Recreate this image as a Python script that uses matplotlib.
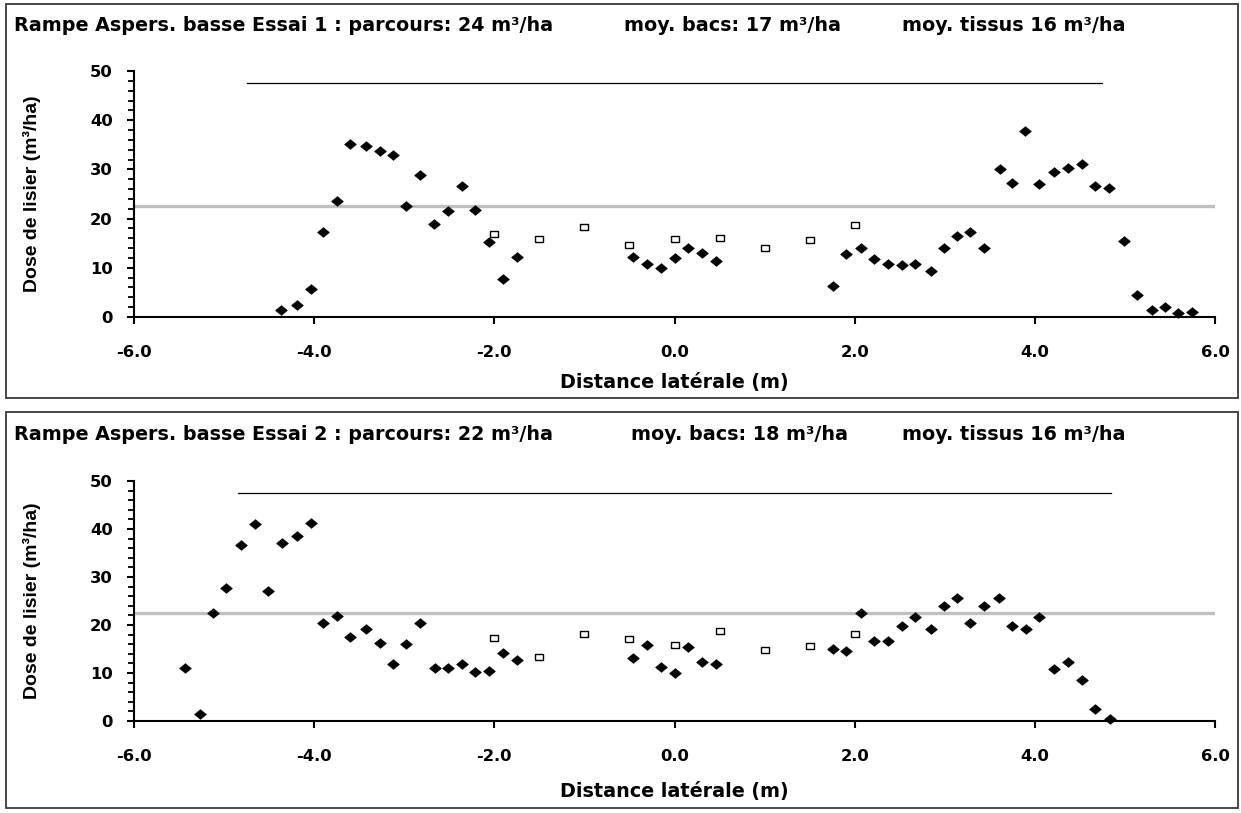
import matplotlib
matplotlib.use("Agg")
import matplotlib.pyplot as plt
from matplotlib.patches import Rectangle
from matplotlib.ticker import MultipleLocator, FormatStrFormatter

plt.rcParams['font.family'] = ['DejaVu Sans']
plt.rcParams['font.weight'] = 'bold'

# ---------------- Essai 1 ----------------
e1_titles = ["Rampe Aspers. basse Essai 1 : parcours: 24 m³/ha",
             "moy. bacs: 17 m³/ha", "moy. tissus 16 m³/ha"]
e1_tissus_x = [-4.37, -4.19, -4.04, -3.90, -3.75, -3.60, -3.43, -3.27, -3.13, -2.98,
               -2.82, -2.67, -2.51, -2.36, -2.21, -2.06, -1.90, -1.75,
               -0.46, -0.30, -0.15, 0.01, 0.15, 0.30, 0.46,
               1.76, 1.90, 2.07, 2.22, 2.37, 2.52, 2.67, 2.85, 2.99, 3.14, 3.28, 3.44,
               3.61, 3.75, 3.89, 4.05, 4.21, 4.37, 4.52, 4.67, 4.82, 4.99, 5.13, 5.30,
               5.44, 5.59, 5.75]
e1_tissus_y = [1.5, 2.5, 5.7, 17.2, 23.5, 35.2, 34.7, 33.7, 32.9, 22.6,
               28.8, 19.0, 21.5, 26.7, 21.8, 15.2, 7.8, 12.1,
               12.1, 10.8, 10.0, 11.9, 14.1, 13.1, 11.4,
               6.2, 12.8, 14.0, 11.8, 10.8, 10.5, 10.8, 9.3, 14.0, 16.4, 17.2, 14.0,
               30.1, 27.3, 37.8, 27.1, 29.5, 30.3, 31.1, 26.6, 26.2, 15.4, 4.4, 1.5,
               2.0, 0.9, 1.0]
e1_bacs_x = [-2.0, -1.5, -1.0, -0.5, 0.0, 0.5, 1.0, 1.5, 2.0]
e1_bacs_y = [16.9, 15.8, 18.3, 14.6, 15.8, 16.1, 14.1, 15.6, 18.6]
e1_parcours_y = 22.5
e1_larg_x = [-4.75, 0.0, 4.75]
e1_larg_y = [47.5, 47.5, 47.5]

# ---------------- Essai 2 ----------------
e2_titles = ["Rampe Aspers. basse Essai 2 : parcours: 22 m³/ha",
             "moy. bacs: 18 m³/ha", "moy. tissus 16 m³/ha"]
e2_tissus_x = [-5.43, -5.27, -5.12, -4.98, -4.81, -4.66, -4.51, -4.36, -4.19, -4.04,
               -3.90, -3.75, -3.60, -3.43, -3.27, -3.13, -2.98, -2.82, -2.66, -2.51,
               -2.36, -2.21, -2.06, -1.90, -1.75,
               -0.46, -0.30, -0.15, 0.01, 0.15, 0.30, 0.46,
               1.76, 1.90, 2.07, 2.22, 2.37, 2.52, 2.67, 2.85, 2.99, 3.14, 3.28, 3.44,
               3.60, 3.75, 3.90, 4.05, 4.21, 4.37, 4.52, 4.67, 4.83]
e2_tissus_y = [11.0, 1.4, 22.6, 27.8, 36.6, 41.0, 27.0, 37.1, 38.5, 41.3,
               20.5, 21.8, 17.5, 19.2, 16.3, 11.9, 16.0, 20.5, 11.0, 11.0,
               11.9, 10.2, 10.5, 14.1, 12.8,
               13.2, 15.8, 11.3, 10.1, 15.4, 12.3, 11.8,
               15.0, 14.5, 22.5, 16.6, 16.6, 19.7, 21.7, 19.1, 24.0, 25.7, 20.5, 24.0,
               25.6, 19.7, 19.1, 21.7, 10.9, 12.3, 8.5, 2.6, 0.5]
e2_bacs_x = [-2.0, -1.5, -1.0, -0.5, 0.0, 0.5, 1.0, 1.5, 2.0]
e2_bacs_y = [17.3, 13.4, 18.1, 17.0, 15.9, 18.7, 14.7, 15.6, 18.1]
e2_parcours_y = 22.5
e2_larg_x = [-4.85, 0.0, 4.85]
e2_larg_y = [47.6, 47.6, 47.6]

x_label = "Distance latérale (m)"
y_label = "Dose de lisier (m³/ha)"

W, H = 1241, 813
fig = plt.figure(figsize=(W / 100, H / 100), dpi=100)


def fx(px):
    return px / W


def fy(py):
    return 1 - py / H


panels = [
    dict(titles=e1_titles, tx=e1_tissus_x, ty=e1_tissus_y, bx=e1_bacs_x, by=e1_bacs_y,
         py=e1_parcours_y, lx=e1_larg_x, ly=e1_larg_y,
         box=(6, 4, 1238, 398), ax_top=71, ax_bot=317, title_base=31,
         title_x=[14, 624, 902], xlab_base=388),
    dict(titles=e2_titles, tx=e2_tissus_x, ty=e2_tissus_y, bx=e2_bacs_x, by=e2_bacs_y,
         py=e2_parcours_y, lx=e2_larg_x, ly=e2_larg_y,
         box=(6, 412, 1238, 808), ax_top=481, ax_bot=721, title_base=440,
         title_x=[14, 631, 902], xlab_base=797),
]

# wide, slightly flattened markers (the reference is stretched horizontally)
diamond = [(-1.0, 0.0), (0.0, 0.83), (1.0, 0.0), (0.0, -0.83), (-1.0, 0.0)]
square = [(-1.0, -0.85), (1.0, -0.85), (1.0, 0.85), (-1.0, 0.85), (-1.0, -0.85)]

FS_T = 13.8
FS_K = 11.8
for p in panels:
    x0, y0, x1, y1 = p['box']
    fig.add_artist(Rectangle((fx(x0), fy(y1)), fx(x1) - fx(x0), fy(y0) - fy(y1),
                             transform=fig.transFigure, fill=False,
                             ec='#3a3a3a', lw=1.3))
    ax = fig.add_axes([fx(134), fy(p['ax_bot']), fx(1215) - fx(134),
                       fy(p['ax_top']) - fy(p['ax_bot'])])
    ax.set_xlim(-6, 6)
    ax.set_ylim(0, 50)
    ax.patch.set_alpha(0)
    for s in ['top', 'right']:
        ax.spines[s].set_visible(False)
    for s in ['left', 'bottom']:
        ax.spines[s].set_linewidth(1.5)
    ax.xaxis.set_major_locator(MultipleLocator(2))
    ax.xaxis.set_major_formatter(FormatStrFormatter('%.1f'))
    ax.yaxis.set_major_locator(MultipleLocator(10))
    ax.yaxis.set_minor_locator(MultipleLocator(2))
    ax.tick_params(axis='x', which='major', direction='out', length=5.3, width=1.5,
                   labelsize=FS_K, pad=14.5)
    ax.tick_params(axis='y', which='major', direction='out', length=5.3, width=1.5,
                   labelsize=FS_K, pad=10)
    ax.tick_params(axis='y', which='minor', direction='out', length=4.1, width=1.3)
    for lab in ax.get_xticklabels() + ax.get_yticklabels():
        lab.set_fontweight('bold')

    ax.axhline(p['py'], color='#c0c0c0', lw=2.4, zorder=2)
    ax.plot(p['lx'], p['ly'], color='black', lw=0.9, zorder=2)
    ax.plot(p['tx'], p['ty'], ls='none', marker=diamond, ms=8.4, mfc='black',
            mec='black', mew=0.5, clip_on=False, zorder=4)
    ax.plot(p['bx'], p['by'], ls='none', marker=square, ms=5.6, mfc='white',
            mec='black', mew=1.0, clip_on=False, zorder=4)

    for t, tx in zip(p['titles'], p['title_x']):
        fig.text(fx(tx), fy(p['title_base']), t, ha='left', va='baseline',
                 fontsize=FS_T, fontweight='bold')
    fig.text(fx(674.5), fy(p['xlab_base']), x_label, ha='center', va='baseline',
             fontsize=FS_T, fontweight='bold')
    fig.text(fx(32), fy((p['ax_top'] + p['ax_bot']) / 2), y_label, ha='center',
             va='center', rotation=90, fontsize=14, fontweight='bold',
             family=['Liberation Sans', 'DejaVu Sans'])

fig.savefig('out.png', dpi=100)
